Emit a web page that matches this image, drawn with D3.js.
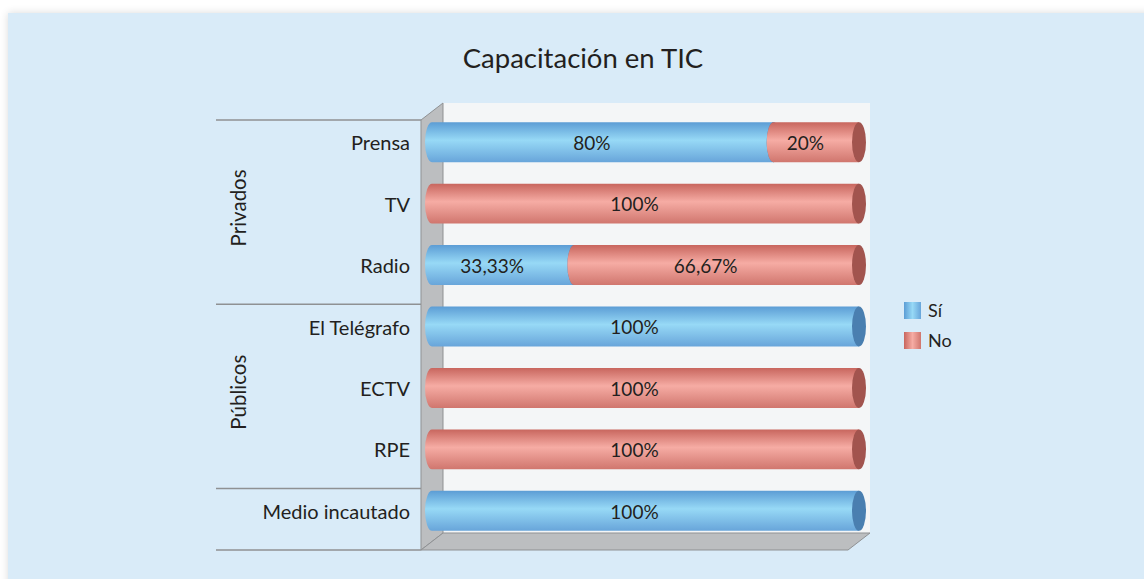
<!DOCTYPE html>
<html>
<head>
<meta charset="utf-8">
<script src="https://cdn.jsdelivr.net/npm/d3@7"></script>
<style>
  body { margin: 0; background: #fff; }
  svg { display: block; }
</style>
</head>
<body>
<div id="chart"></div>
<script>
var categories = ["Prensa", "TV", "Radio", "El Telégrafo", "ECTV", "RPE", "Medio incautado"];
var siValues = [80, 0, 33.33, 100, 0, 0, 100];
var noValues = [20, 100, 66.67, 0, 100, 100, 0];
var groupNames = ["Privados", "Públicos", ""];
var groupSizes = [3, 3, 1];
var seriesNames = ["Sí", "No"];

var width = 1144, height = 579;
var fontFamily = "Lato, 'Open Sans', sans-serif";
var textColor = "#231f20";

// front plane of the 3d box, the back wall is shifted by depth
// (note: "top" is taken by window.top, so plotTop/plotBottom)
var plotLeft = 421, plotRight = 848, plotTop = 120, plotBottom = 550;
var depthX = 22, depthY = -17;
var barShiftX = depthX / 2, barShiftY = depthY / 2;

var colors = {
  "Sí": { top: "#5c9dd5", mid: "#97d9f6", bot: "#68a5da", cap: "#4a7fb0" },
  "No": { top: "#c8665e", mid: "#f6aca4", bot: "#d0766e", cap: "#a2544e" }
};

var svg = d3.select("#chart").append("svg")
  .attr("width", width)
  .attr("height", height);

var defs = svg.append("defs");
var shadow = defs.append("filter").attr("id", "shadow")
  .attr("x", "-5%").attr("y", "-5%").attr("width", "110%").attr("height", "110%");
shadow.append("feGaussianBlur").attr("in", "SourceAlpha").attr("stdDeviation", 4);
shadow.append("feComponentTransfer").append("feFuncA").attr("type", "linear").attr("slope", 0.15);
var merge = shadow.append("feMerge");
merge.append("feMergeNode");
merge.append("feMergeNode").attr("in", "SourceGraphic");

seriesNames.forEach(function (s, i) {
  var c = colors[s];
  var g = defs.append("linearGradient").attr("id", "grad" + i)
    .attr("x1", 0).attr("y1", 0).attr("x2", 0).attr("y2", 1);
  g.append("stop").attr("offset", "0%").attr("stop-color", c.top);
  g.append("stop").attr("offset", "45%").attr("stop-color", c.mid);
  g.append("stop").attr("offset", "100%").attr("stop-color", c.bot);
  var h = defs.append("linearGradient").attr("id", "legGrad" + i)
    .attr("x1", 0).attr("y1", 0).attr("x2", 1).attr("y2", 0);
  h.append("stop").attr("offset", "0%").attr("stop-color", c.top);
  h.append("stop").attr("offset", "50%").attr("stop-color", c.mid);
  h.append("stop").attr("offset", "100%").attr("stop-color", c.bot);
});

// panel background
svg.append("rect")
  .attr("x", 8).attr("y", 13)
  .attr("width", width).attr("height", height)
  .attr("fill", "#d9ebf8")
  .attr("filter", "url(#shadow)");

svg.append("text")
  .attr("x", 583).attr("y", 68)
  .attr("text-anchor", "middle")
  .attr("font-family", fontFamily)
  .attr("font-size", 27.5)
  .attr("fill", textColor)
  .text("Capacitación en TIC");

var x = d3.scaleLinear().domain([0, 100]).range([plotLeft, plotRight]);
var y = d3.scaleBand().domain(categories).range([plotTop, plotBottom]).padding(0);
var barH = y.bandwidth() * 0.65;
var rx = 7;

// walls
svg.append("rect")
  .attr("x", plotLeft + depthX).attr("y", plotTop + depthY)
  .attr("width", plotRight - plotLeft).attr("height", plotBottom - plotTop)
  .attr("fill", "#f4f6f7");

svg.append("polygon")
  .attr("points", [[plotLeft, plotTop], [plotLeft + depthX, plotTop + depthY], [plotLeft + depthX, plotBottom + depthY], [plotLeft, plotBottom]].join(" "))
  .attr("fill", "#bcbec0")
  .attr("stroke", "#8f9193")
  .attr("stroke-width", 1);

svg.append("polygon")
  .attr("points", [[plotLeft, plotBottom], [plotLeft + depthX, plotBottom + depthY], [plotRight + depthX, plotBottom + depthY], [plotRight, plotBottom]].join(" "))
  .attr("fill", "#bcbec0")
  .attr("stroke", "#8f9193")
  .attr("stroke-width", 1);

// group separators and labels
var lineX0 = 216;
var idx = 0;
var bounds = [plotTop];
groupSizes.forEach(function (n, gi) {
  var y0 = y(categories[idx]);
  var y1 = y(categories[idx + n - 1]) + y.bandwidth();
  bounds.push(y1);
  if (groupNames[gi]) {
    svg.append("text")
      .attr("transform", "translate(246," + ((y0 + y1) / 2 + barShiftY / 2) + ") rotate(-90)")
      .attr("text-anchor", "middle")
      .attr("font-family", fontFamily)
      .attr("font-size", 20.5)
      .attr("fill", textColor)
      .text(groupNames[gi]);
  }
  idx += n;
});

svg.selectAll("line.sep")
  .data(bounds)
  .enter().append("line")
  .attr("class", "sep")
  .attr("x1", lineX0).attr("x2", plotLeft)
  .attr("y1", function (d) { return d; })
  .attr("y2", function (d) { return d; })
  .attr("stroke", "#8f9193")
  .attr("stroke-width", 1.5);

// category labels
svg.selectAll("text.cat")
  .data(categories)
  .enter().append("text")
  .attr("class", "cat")
  .attr("x", 410)
  .attr("y", function (d) { return y(d) + y.bandwidth() / 2 + barShiftY + 1; })
  .attr("dy", "0.35em")
  .attr("text-anchor", "end")
  .attr("font-family", fontFamily)
  .attr("font-size", 20)
  .attr("fill", textColor)
  .text(function (d) { return d; });

// stacked cylinders
var segments = [];
categories.forEach(function (c, i) {
  var start = 0;
  [siValues[i], noValues[i]].forEach(function (v, si) {
    if (v > 0) segments.push({ cat: c, series: si, x0: start, x1: start + v, value: v });
    start += v;
  });
});

function fmt(v) {
  return String(v).replace(".", ",") + "%";
}

var bars = svg.append("g").attr("transform", "translate(" + barShiftX + "," + barShiftY + ")");

var seg = bars.selectAll("g.seg")
  .data(segments)
  .enter().append("g")
  .attr("class", "seg");

seg.append("path")
  .attr("d", function (d) {
    var xa = x(d.x0), xb = x(d.x1);
    var cy = y(d.cat) + y.bandwidth() / 2;
    var t = cy - barH / 2, b = cy + barH / 2;
    return "M" + xb + "," + t + "L" + xa + "," + t +
      "A" + rx + "," + (barH / 2) + " 0 0 0 " + xa + "," + b +
      "L" + xb + "," + b + "Z";
  })
  .attr("fill", function (d) { return "url(#grad" + d.series + ")"; });

seg.append("ellipse")
  .attr("cx", function (d) { return x(d.x1); })
  .attr("cy", function (d) { return y(d.cat) + y.bandwidth() / 2; })
  .attr("rx", rx)
  .attr("ry", barH / 2)
  .attr("fill", function (d) { return colors[seriesNames[d.series]].cap; });

// labels sit on the front plane, so undo the depth shift in x
seg.append("text")
  .attr("x", function (d) { return (x(d.x0) + x(d.x1)) / 2 - barShiftX; })
  .attr("y", function (d) { return y(d.cat) + y.bandwidth() / 2 + 1; })
  .attr("dy", "0.36em")
  .attr("text-anchor", "middle")
  .attr("font-family", fontFamily)
  .attr("font-size", 19)
  .attr("fill", textColor)
  .text(function (d) { return fmt(d.value); });

// legend
var legend = svg.selectAll("g.legend")
  .data(seriesNames)
  .enter().append("g")
  .attr("class", "legend")
  .attr("transform", function (d, i) { return "translate(904," + (302 + i * 30) + ")"; });

legend.append("rect")
  .attr("width", 17).attr("height", 17)
  .attr("fill", function (d, i) { return "url(#legGrad" + i + ")"; });

legend.append("text")
  .attr("x", 24).attr("y", 9)
  .attr("dy", "0.36em")
  .attr("font-family", fontFamily)
  .attr("font-size", 18)
  .attr("fill", textColor)
  .text(function (d) { return d; });
</script>
</body>
</html>
